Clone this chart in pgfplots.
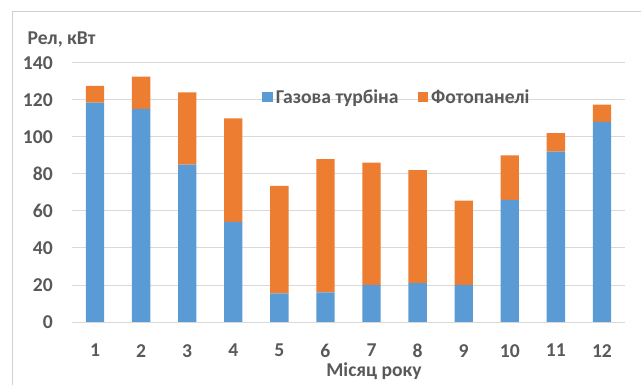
\documentclass[border=0pt]{standalone}
\usepackage{pgfplots}
\pgfplotsset{compat=1.18}
\usepackage{fontspec}
\setmainfont{Carlito}
\definecolor{gasblue}{HTML}{5B9BD5}
\definecolor{pvorange}{HTML}{ED7D31}
\definecolor{txtgray}{HTML}{595959}
\definecolor{gridgray}{HTML}{D9D9D9}
\definecolor{framegray}{HTML}{D0D0D0}
\newcommand{\lblfont}{\fontsize{19.6}{24}\selectfont\bfseries}

\begin{document}
\begin{tikzpicture}[x=1pt,y=1pt]
\path[use as bounding box] (0,0) rectangle (641,385);
% chart frame
\draw[framegray, line width=1pt] (12.7,0) -- (12.7,373.3) -- (641,373.3);
\begin{axis}[
  at={(72pt,63pt)}, anchor=south west,
  scale only axis, width=553pt, height=259.3pt,
  ybar stacked, bar width=18.3pt,
  xmin=0.5, xmax=12.5, ymin=0, ymax=140,
  xtick={1,...,12}, ytick={0,20,...,140},
  axis x line*=bottom, axis y line*=left,
  x axis line style={draw=gridgray, line width=0.9pt, -},
  y axis line style={draw=none},
  major tick length=0pt,
  ymajorgrids, grid style={draw=gridgray, line width=0.9pt},
  /pgf/number format/assume math mode=true,
  tick label style={font=\lblfont, text=txtgray, inner sep=0pt},
  yticklabel style={anchor=east, xshift=-19pt},
  xticklabel style={anchor=north, yshift=-22pt},
  legend style={at={(0.3436,0.8677)}, anchor=west, draw=none, fill=none,
    font=\lblfont, text=txtgray, legend columns=2, inner sep=0pt,
    /tikz/every even column/.append style={column sep=16pt},
    nodes={inner xsep=3pt, inner ysep=0pt}},
]
\addplot[fill=gasblue, draw=none,
  legend image code/.code={\fill[gasblue] (0pt,-4.6pt) rectangle (10.6pt,4.6pt);}]
  coordinates {(1,118.5) (2,115) (3,85) (4,54) (5,15.5) (6,16)
               (7,20) (8,21) (9,20) (10,66) (11,92) (12,108)};
\addplot[fill=pvorange, draw=none,
  legend image code/.code={\fill[pvorange] (0pt,-4.6pt) rectangle (10.6pt,4.6pt);}]
  coordinates {(1,9) (2,17.5) (3,39) (4,56) (5,58) (6,72)
               (7,66) (8,61) (9,45.5) (10,24) (11,10) (12,9.3)};
\legend{Газова турбіна, Фотопанелі}
\end{axis}
\node[anchor=base west, inner sep=0pt, font=\lblfont, text=txtgray] at (27.3,340.7) {Pел, кВт};
\node[anchor=base, inner sep=0pt, font=\lblfont, text=txtgray] at (374,8.3) {Місяц року};
\end{tikzpicture}
\end{document}
